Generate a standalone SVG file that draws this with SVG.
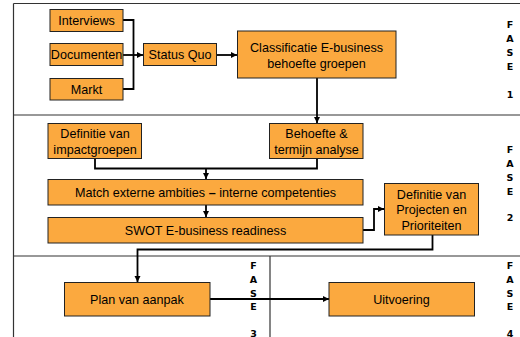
<svg xmlns="http://www.w3.org/2000/svg" width="520" height="337" viewBox="0 0 520 337">
<style>
.box{fill:#FBA93F;stroke:#222;stroke-width:1}
.t{font-family:"Liberation Sans",Arial,sans-serif;font-size:12.6px;fill:#000;text-anchor:middle}
.f{font-family:"DejaVu Sans",Verdana,sans-serif;font-size:9.5px;font-weight:bold;fill:#000;text-anchor:middle}
.frame{stroke:#333;stroke-width:1.2;fill:none}
.c{stroke:#000;stroke-width:1.8;fill:none}
.ca{stroke:#000;stroke-width:1.8;fill:none;marker-end:url(#ah)}
</style>
<defs>
<marker id="ah" viewBox="0 0 10 10" refX="10" refY="5" markerWidth="3.6" markerHeight="3.6" orient="auto" markerUnits="strokeWidth">
<path d="M0,0 L10,5 L0,10 z" fill="#000"/>
</marker>
</defs>
<rect width="520" height="337" fill="#fff"/>
<g id="frame">
<line class="frame" x1="13.5" y1="3.5" x2="520" y2="3.5"/>
<line class="frame" x1="13.5" y1="3.5" x2="13.5" y2="337"/>
<line class="frame" x1="13.5" y1="115" x2="520" y2="115"/>
<line class="frame" x1="13.5" y1="256" x2="520" y2="256"/>
<line class="frame" x1="270" y1="256" x2="270" y2="337"/>
</g>
<g id="connectors">
<polyline class="c" points="123,20 133.5,20 133.5,89 123,89"/>
<line class="ca" x1="123" y1="55" x2="143" y2="55"/>
<line class="ca" x1="217" y1="55" x2="237" y2="55"/>
<line class="ca" x1="317" y1="78" x2="317" y2="123"/>
<polyline class="c" points="95,158 95,168.5 317,168.5 317,158"/>
<line class="ca" x1="206" y1="168.5" x2="206" y2="179"/>
<line class="ca" x1="206" y1="205" x2="206" y2="217"/>
<polyline class="ca" points="363,230 374,230 374,209 384,209"/>
<polyline class="ca" points="432.5,235 432.5,249.5 137.5,249.5 137.5,282"/>
<line class="ca" x1="210" y1="299" x2="329" y2="299"/>
</g>
<g id="interviews"><rect class="box" x="50" y="9.5" width="73" height="22"/><text class="t" x="86.5" y="25">Interviews</text></g>
<g id="documenten"><rect class="box" x="50" y="43.5" width="73" height="22"/><text class="t" x="86.5" y="59">Documenten</text></g>
<g id="markt"><rect class="box" x="50" y="78.5" width="73" height="21.5"/><text class="t" x="86.5" y="93.5">Markt</text></g>
<g id="statusquo"><rect class="box" x="143.5" y="43.5" width="73" height="22"/><text class="t" x="180" y="59">Status Quo</text></g>
<g id="classificatie"><rect class="box" x="237.5" y="31" width="158.5" height="47"/><text class="t" x="316.5" y="52">Classificatie E-business</text><text class="t" x="316.5" y="67.5">behoefte groepen</text></g>
<g id="impactgroepen"><rect class="box" x="48" y="123.5" width="93.5" height="35"/><text class="t" x="95" y="137.5">Definitie van</text><text class="t" x="95" y="153.5">impactgroepen</text></g>
<g id="behoefte"><rect class="box" x="269.5" y="123.5" width="93.5" height="35"/><text class="t" x="316.5" y="137.5">Behoefte &amp;</text><text class="t" x="316.5" y="153.5">termijn analyse</text></g>
<g id="match"><rect class="box" x="48" y="179.5" width="315" height="25.5"/><text class="t" x="205.5" y="196.5">Match externe ambities <tspan font-weight="bold">–</tspan> interne competenties</text></g>
<g id="swot"><rect class="box" x="48" y="217.5" width="315" height="25.5"/><text class="t" x="205.5" y="234.5">SWOT E-business readiness</text></g>
<g id="projecten"><rect class="box" x="384.5" y="183.5" width="94" height="51.5"/><text class="t" x="431.5" y="198.5">Definitie van</text><text class="t" x="431.5" y="214">Projecten en</text><text class="t" x="431.5" y="229.5">Prioriteiten</text></g>
<g id="plan"><rect class="box" x="64.5" y="282.5" width="145.5" height="33.5"/><text class="t" x="137" y="303.5">Plan van aanpak</text></g>
<g id="uitvoering"><rect class="box" x="329" y="282.5" width="145.5" height="33.5"/><text class="t" x="401.5" y="303.5">Uitvoering</text></g>
<g id="fase1"><text class="f" x="510" y="27.5">F</text><text class="f" x="510" y="42">A</text><text class="f" x="510" y="55.5">S</text><text class="f" x="510" y="69.5">E</text><text class="f" x="510" y="97.5">1</text></g>
<g id="fase2"><text class="f" x="510" y="152.5">F</text><text class="f" x="510" y="166.5">A</text><text class="f" x="510" y="180.5">S</text><text class="f" x="510" y="194.5">E</text><text class="f" x="510" y="221">2</text></g>
<g id="fase3"><text class="f" x="253.5" y="268.5">F</text><text class="f" x="253.5" y="282.5">A</text><text class="f" x="253.5" y="296.5">S</text><text class="f" x="253.5" y="309.5">E</text><text class="f" x="253.5" y="336.5">3</text></g>
<g id="fase4"><text class="f" x="510" y="268.5">F</text><text class="f" x="510" y="282.5">A</text><text class="f" x="510" y="296.5">S</text><text class="f" x="510" y="309.5">E</text><text class="f" x="510" y="336.5">4</text></g>
</svg>
